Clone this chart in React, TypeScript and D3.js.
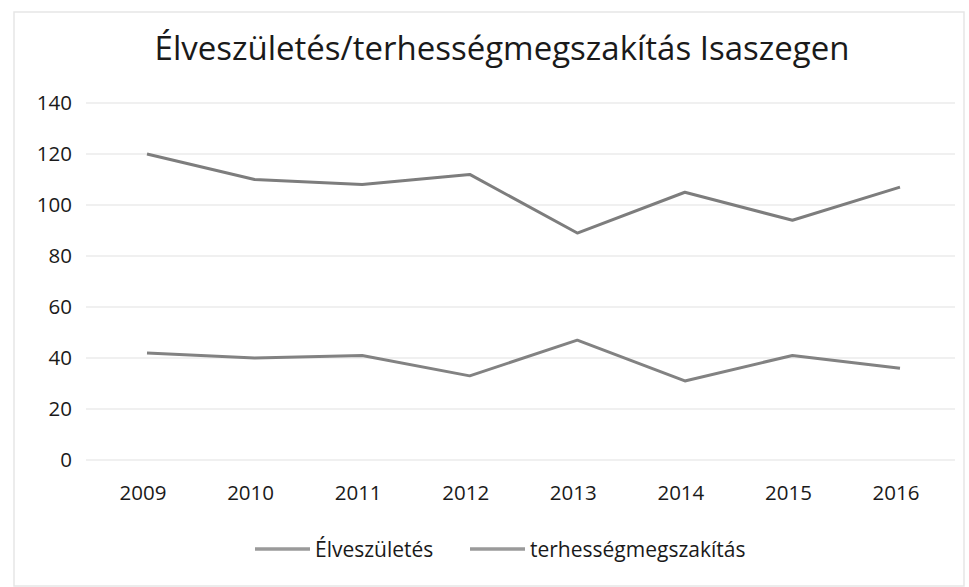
import React from "react";
import * as d3 from "d3";

const years = ["2009", "2010", "2011", "2012", "2013", "2014", "2015", "2016"];
const elveszuletes = [120, 110, 108, 112, 89, 105, 94, 107];
const terhessegmegszakitas = [42, 40, 41, 33, 47, 31, 41, 36];
const yTicks = [0, 20, 40, 60, 80, 100, 120, 140];
const seriesNames = ["Élveszületés", "terhességmegszakítás"];
const title = "Élveszületés/terhességmegszakítás Isaszegen";

const W = 969;
const H = 587;
const FONT = "'Open Sans', 'Noto Sans', sans-serif";

export default function App() {
  const x = d3.scalePoint<string>().domain(years).range([147, 900]);
  const y = d3.scaleLinear().domain([0, 140]).range([460, 103]);
  const line = d3
    .line<number>()
    .x((_, i) => x(years[i]) as number)
    .y((d) => y(d));
  const series = [elveszuletes, terhessegmegszakitas];
  const colors = ["#7d7d7d", "#828282"];
  const legendX = [255, 470];

  return (
    <svg
      width={W}
      height={H}
      style={{ position: "absolute", left: 0, top: 0, background: "#fff" }}
    >
      <rect x={0} y={0} width={W} height={H} fill="#fff" />
      <rect x={14} y={12} width={950} height={574} fill="none" stroke="#e6e6e6" strokeWidth={1.5} />
      <text
        x={502}
        y={60}
        textAnchor="middle"
        fontFamily={FONT}
        fontSize={33}
        fill="#1a1a1a"
      >
        {title}
      </text>
      {yTicks.map((t) => (
        <g key={t}>
          <line x1={86} x2={955} y1={y(t)} y2={y(t)} stroke="#ebebeb" strokeWidth={1.5} />
          <text
            x={72}
            y={y(t)}
            dy="0.36em"
            textAnchor="end"
            fontFamily={FONT}
            fontSize={20.5}
            fill="#1a1a1a"
          >
            {t}
          </text>
        </g>
      ))}
      {years.map((yr) => (
        <text
          key={yr}
          x={(x(yr) as number) - 4}
          y={500}
          textAnchor="middle"
          fontFamily={FONT}
          fontSize={20.5}
          fill="#1a1a1a"
        >
          {yr}
        </text>
      ))}
      {series.map((s, i) => (
        <path
          key={i}
          d={line(s) || ""}
          fill="none"
          stroke={colors[i]}
          strokeWidth={3}
          strokeLinejoin="round"
        />
      ))}
      {seriesNames.map((n, i) => (
        <g key={n}>
          <line
            x1={legendX[i]}
            x2={legendX[i] + 55}
            y1={549}
            y2={549}
            stroke="#9a9a9a"
            strokeWidth={3.5}
          />
          <text
            x={legendX[i] + 60}
            y={557}
            fontFamily={FONT}
            fontSize={21}
            fill="#1a1a1a"
          >
            {n}
          </text>
        </g>
      ))}
    </svg>
  );
}
